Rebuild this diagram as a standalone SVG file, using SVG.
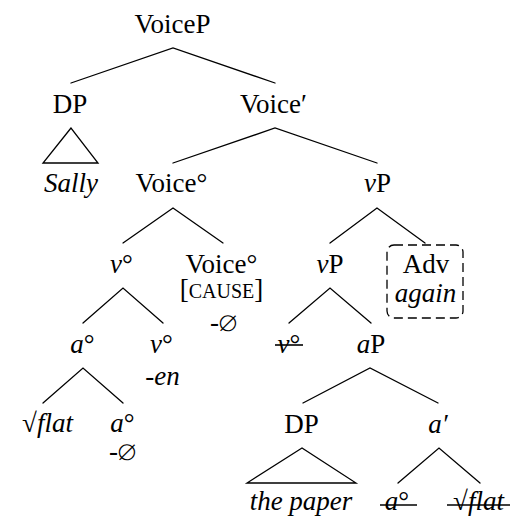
<svg xmlns="http://www.w3.org/2000/svg" width="513" height="518" viewBox="0 0 513 518" font-family="Tinos, Times New Roman, Times, Nimbus Roman, Nimbus Roman No9 L, FreeSerif, Noto Serif, STIX Two Text, Georgia, Liberation Serif, DejaVu Serif, serif" font-size="27">
  <style>
    text { fill: #000; text-anchor: middle; }
    .it { font-style: italic; }
    .sc { font-size: 20px; }
    .edge { stroke: #000; stroke-width: 1.3; fill: none; stroke-linecap: round; }
    .strike { stroke: #000; stroke-width: 1.6; }
    .box { fill: none; stroke: #000; stroke-width: 1.3; stroke-dasharray: 9 5; }
  </style>
  <rect width="513" height="518" fill="#fff"/>

  <g id="connectors">
    <!-- VoiceP -->
    <polyline class="edge" points="71,83 173,48 275,83"/>
    <!-- DP triangle -->
    <polygon class="edge" points="71,128 43,163 98,163"/>
    <!-- Voice' -->
    <polyline class="edge" points="173,163 275,128 377,163"/>
    <!-- Voice head -->
    <polyline class="edge" points="123,243 173,208 223,243"/>
    <!-- upper vP -->
    <polyline class="edge" points="330,243 377,208 425,243"/>
    <!-- v head -->
    <polyline class="edge" points="83,323 123,288 163,323"/>
    <!-- lower vP -->
    <polyline class="edge" points="289,323 330,288 371,323"/>
    <!-- a head -->
    <polyline class="edge" points="43,403 83,368 123,403"/>
    <!-- aP -->
    <polyline class="edge" points="303,403 370,368 438,403"/>
    <!-- DP triangle (the paper) -->
    <polygon class="edge" points="302,448 247,483 356,483"/>
    <!-- a' -->
    <polyline class="edge" points="398,483 439,448 480,483"/>
  </g>

  <g id="n-voiceP"><text x="172.5" y="33">VoiceP</text></g>
  <g id="n-dp1"><text x="70" y="113">DP</text></g>
  <g id="n-voicebar"><text x="273.5" y="113">Voice′</text></g>
  <g id="n-sally"><text class="it" x="71" y="192">Sally</text></g>
  <g id="n-voice0"><text x="171.5" y="192">Voice°</text></g>
  <g id="n-vP1"><text x="377.5" y="192"><tspan class="it">v</tspan>P</text></g>

  <g id="n-v0"><text x="121.5" y="273"><tspan class="it">v</tspan>°</text></g>
  <g id="n-voice0b">
    <text x="221.5" y="273">Voice°</text>
    <text x="221.5" y="298">[<tspan class="sc">CAUSE</tspan>]</text>
    <text x="223.5" y="331">-∅</text>
  </g>
  <g id="n-vP2"><text x="330" y="273"><tspan class="it">v</tspan>P</text></g>
  <g id="n-adv">
    <rect class="box" x="387" y="245" width="76" height="73" rx="7"/>
    <text x="426" y="273">Adv</text>
    <text class="it" x="425.5" y="302">again</text>
  </g>

  <g id="n-a0"><text x="82.5" y="353"><tspan class="it">a</tspan>°</text></g>
  <g id="n-v0b">
    <text x="161.5" y="353"><tspan class="it">v</tspan>°</text>
    <text class="it" x="162.5" y="385">-en</text>
  </g>
  <g id="n-v0-copy">
    <text x="289" y="353"><tspan class="it">v</tspan>°</text>
    <line class="strike" x1="275" y1="345" x2="303" y2="345"/>
  </g>
  <g id="n-aP"><text x="371" y="353"><tspan class="it">a</tspan>P</text></g>

  <g id="n-root"><text x="47.5" y="432">√<tspan class="it">flat</tspan></text></g>
  <g id="n-a0b">
    <text x="122.5" y="432"><tspan class="it">a</tspan>°</text>
    <text x="122.5" y="460">-∅</text>
  </g>

  <g id="n-dp2"><text x="301.5" y="433">DP</text></g>
  <g id="n-abar"><text class="it" x="438" y="433">a′</text></g>
  <g id="n-paper"><text class="it" x="301" y="510">the paper</text></g>
  <g id="n-a0-copy">
    <text x="397" y="510"><tspan class="it">a</tspan>°</text>
    <line class="strike" x1="380" y1="505" x2="417" y2="505"/>
  </g>
  <g id="n-root-copy">
    <text x="478.5" y="510">√<tspan class="it">flat</tspan></text>
    <line class="strike" x1="447" y1="505" x2="510" y2="505"/>
  </g>
</svg>
